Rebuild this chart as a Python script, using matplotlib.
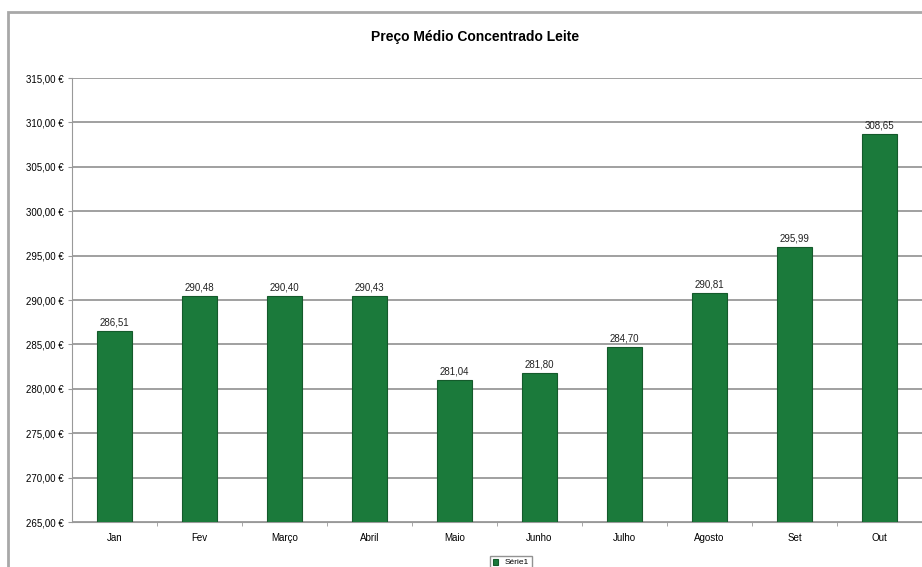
import matplotlib.pyplot as plt
from matplotlib.patches import Rectangle

plt.rcParams['font.family'] = ['Liberation Sans', 'DejaVu Sans']

meses = ['Jan', 'Fev', 'Março', 'Abril', 'Maio', 'Junho', 'Julho', 'Agosto', 'Set', 'Out']
precos = [286.51, 290.48, 290.40, 290.43, 281.04, 281.80, 284.70, 290.81, 295.99, 308.65]
rotulos = ['286,51', '290,48', '290,40', '290,43', '281,04', '281,80', '284,70', '290,81', '295,99', '308,65']
y_ticks = [265, 270, 275, 280, 285, 290, 295, 300, 305, 310, 315]

fig = plt.figure(figsize=(9.22, 5.67), dpi=100)
fig.patches.append(Rectangle((8 / 922, -0.1), 1.2, (567 - 12) / 567 + 0.1,
                             transform=fig.transFigure, fill=False,
                             edgecolor='#a8a8a8', linewidth=2))

ax = fig.add_axes([72 / 922, 45 / 567, 1 - 72 / 922, (522 - 78) / 567])
x = range(len(meses))
bars = ax.bar(x, precos, width=0.41, color='#1b7a3b', edgecolor='#145a2b',
              linewidth=0.8, label='Série1', zorder=3)

for xi, v, r in zip(x, precos, rotulos):
    ax.text(xi, v + 0.4, r, ha='center', va='bottom', fontsize=7, color='#222222', zorder=4)

ax.set_ylim(265, 315)
ax.set_xlim(-0.5, len(meses) - 0.5)
ax.set_yticks(y_ticks)
ax.set_yticklabels(['%d,00 €' % t for t in y_ticks], fontsize=7)
ax.set_xticks(list(x))
ax.set_xticklabels(meses, fontsize=7)
ax.set_xticks([i + 0.5 for i in range(len(meses) - 1)], minor=True)
ax.tick_params(axis='x', which='major', length=0, pad=8)
ax.tick_params(axis='x', which='minor', length=3, color='#999999', direction='out')
ax.tick_params(axis='y', length=3, color='#999999', pad=3)
ax.yaxis.grid(True, color='#a0a0a0', linewidth=1.4, zorder=0)
for s in ['top', 'right']:
    ax.spines[s].set_visible(False)
ax.spines['left'].set_color('#999999')
ax.spines['bottom'].set_color('#999999')

fig.text(475 / 922, 1 - 37 / 567, 'Preço Médio Concentrado Leite', ha='center', va='center',
         fontsize=10, fontweight='bold')

fig.legend(handles=[bars], loc='upper center', bbox_to_anchor=(511 / 922, 15 / 567),
           fontsize=6, frameon=True, fancybox=False, edgecolor='#777777',
           handlelength=0.7, handleheight=0.7, borderpad=0.3)

fig.savefig('out.png', dpi=100)
